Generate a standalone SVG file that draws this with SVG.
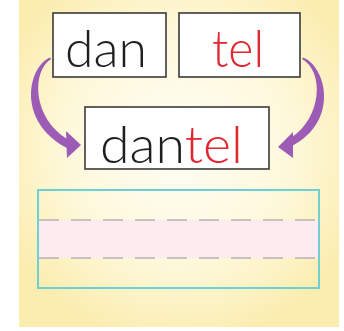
<svg xmlns="http://www.w3.org/2000/svg" width="344" height="331" viewBox="0 0 344 331">
<defs>
<radialGradient id="bg" cx="0.5" cy="0.45" r="0.6">
<stop offset="0" stop-color="#FFFEF6"/>
<stop offset="0.6" stop-color="#FEF8DA"/>
<stop offset="1" stop-color="#FBEDB0"/>
</radialGradient>
<style>
.card{fill:#fff;stroke:#3a3a3a;stroke-width:1.6}
.w{font-family:Lato,"Liberation Sans",sans-serif;font-weight:300;font-size:52px}
.k{fill:#1f1f1f}
.r{fill:#E0262F}
.arrow{fill:#9C5CB6}
.dash{stroke:#B8B2B4;stroke-width:1.6;stroke-dasharray:20 12;fill:none}
</style>
</defs>
<rect x="0" y="0" width="344" height="331" fill="#fff"/>
<rect x="19" y="0" width="320" height="327" fill="url(#bg)"/>
<g id="connectors">
<path class="arrow" d="M50,57.5 C28,67 16,121 67,148 L67,139 C33,118 31,72 51,59 Z"/>
<polygon class="arrow" points="66,131 81,145 67,158"/>
<path class="arrow" d="M303,57.5 C326,66 340,121 292,146 L292,137 C321,118 325,72 302,59 Z"/>
<polygon class="arrow" points="293,132 278,147 293,158"/>
</g>
<g id="node-dan">
<rect class="card" x="53" y="13" width="113" height="64"/>
<text class="w k" x="106" y="67" text-anchor="middle" textLength="82" lengthAdjust="spacingAndGlyphs">dan</text>
</g>
<g id="node-tel">
<rect class="card" x="179" y="13" width="121" height="64"/>
<text class="w r" x="238" y="67" text-anchor="middle" textLength="52" lengthAdjust="spacingAndGlyphs">tel</text>
</g>
<g id="node-dantel">
<rect class="card" x="85" y="107" width="184" height="62"/>
<text class="w" x="100" y="163" textLength="143" lengthAdjust="spacingAndGlyphs"><tspan class="k">dan</tspan><tspan class="r">tel</tspan></text>
</g>
<g id="writing-box">
<rect x="38" y="220" width="281" height="38" fill="#FDEBF0"/>
<rect x="38" y="190" width="281" height="98" fill="none" stroke="#6FCFD2" stroke-width="2"/>
<line class="dash" x1="39" y1="220" x2="318" y2="220"/>
<line class="dash" x1="39" y1="258" x2="318" y2="258"/>
</g>
</svg>
